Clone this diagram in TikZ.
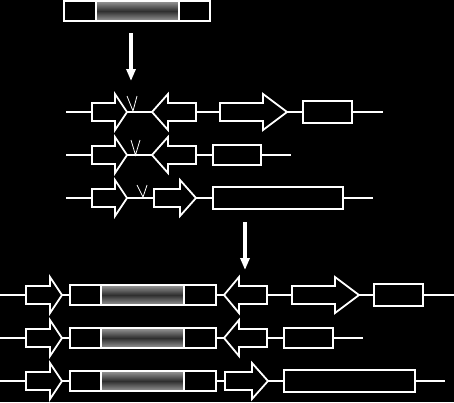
\documentclass[tikz,border=0pt]{standalone}
\usepackage{tikz}
\usetikzlibrary{arrows.meta}
\usetikzlibrary{positioning}
\tikzset{
    dna/.style={
           draw=white, line width=1.8pt,
           },
}
\tikzset{
    gene/.style={
           draw=white, fill=black, line width=1.8pt,
           line join=miter,
           },
}
\tikzset{
    orf/.style={
           rectangle,
           draw=white, fill=black, line width=1.8pt,
           inner sep=0pt, outer sep=0pt,
           anchor=west,
           },
}
\tikzset{
    casend/.style={
           rectangle,
           draw=white, fill=black, line width=1.8pt,
           inner sep=0pt, outer sep=0pt,
           minimum height=20pt,
           },
}
\tikzset{
    casmid/.style={
           rectangle,
           draw=white, line width=1.8pt,
           top color=black!40, bottom color=black!40, middle color=black!82,
           inner sep=0pt, outer sep=0pt,
           minimum height=20pt, minimum width=83pt,
           },
}
\tikzset{
    site/.style={draw=white, line width=0.8pt},
    step arrow/.style={draw=white, line width=4.5pt,
           -{Triangle[width=9pt,length=12pt]}},
    pics/fwd/.style 2 args={code={
           \draw[gene] (0,-9) -- (#1,-9) -- (#1,-18) -- (#1+#2,0)
                 -- (#1,18) -- (#1,9) -- (0,9) -- cycle;
           \coordinate (-tail) at (0,0);
           \coordinate (-tip) at (#1+#2,0);
           }},
    pics/rev/.style 2 args={code={
           \draw[gene] (0,0) -- (#2,-18) -- (#2,-9) -- (#1+#2,-9)
                 -- (#1+#2,9) -- (#2,9) -- (#2,18) -- cycle;
           \coordinate (-tip) at (0,0);
           \coordinate (-tail) at (#1+#2,0);
           }},
}

\begin{document}
\begin{tikzpicture}[x=1pt,y=-1pt]
\fill[black] (0,0) rectangle (454,402);
\useasboundingbox (0,0) rectangle (454,402);
% cassette
\node[casend,minimum width=32pt,anchor=west](cT1) at (64,11){};
\node[casmid,right = 0pt of cT1](cT2){};
\node[casend,minimum width=31pt,right = 0pt of cT2](cT3){};
\coordinate (a1s) at (131,33);
\coordinate (a1e) at (131,81);
\draw[step arrow] (a1s) -- (a1e);
% locus 1
\coordinate (s1) at (66,112);
\pic (g1a) at (92,112) {fwd={23}{12}};
\pic (g1b) at (152,112) {rev={28}{16}};
\pic (g1c) at (220,112) {fwd={43}{24}};
\node[orf,minimum width=49pt,minimum height=22pt](b1) at (303,112){};
\coordinate (e1) at (383,112);
\draw[dna] (s1) -- (g1a-tail);
\draw[dna] (g1a-tip) -- (g1b-tip);
\draw[dna] (g1b-tail) -- (g1c-tail);
\draw[dna] (g1c-tip) -- (b1.west);
\draw[dna] (b1.east) -- (e1);
\draw[site] (g1a-tip) ++(0,-16) -- ++(6,15) -- ++(4,-15);
% locus 2
\coordinate (s2) at (66,155);
\pic (g2a) at (92,155) {fwd={23}{12}};
\pic (g2b) at (152,155) {rev={28}{16}};
\node[orf,minimum width=48pt,minimum height=20pt](b2) at (213,155){};
\coordinate (e2) at (291,155);
\draw[dna] (s2) -- (g2a-tail);
\draw[dna] (g2a-tip) -- (g2b-tip);
\draw[dna] (g2b-tail) -- (b2.west);
\draw[dna] (b2.east) -- (e2);
\draw[site] (g2a-tip) ++(4,-15) -- ++(4.5,15) -- ++(4.5,-15);
% locus 3
\coordinate (s3) at (66,198);
\pic (g3a) at (92,198) {fwd={23}{12}};
\pic (g3b) at (154,198) {fwd={26}{16}};
\node[orf,minimum width=130pt,minimum height=22pt](b3) at (213,198){};
\coordinate (e3) at (373,198);
\draw[dna] (s3) -- (g3a-tail);
\draw[dna] (g3a-tip) -- (g3b-tail);
\draw[dna] (g3b-tip) -- (b3.west);
\draw[dna] (b3.east) -- (e3);
\draw[site] (g3a-tip) ++(10,-13) -- ++(6,12) -- ++(4,-12);
\coordinate (a2s) at (245,222);
\coordinate (a2e) at (245,270);
\draw[step arrow] (a2s) -- (a2e);
% insertions
\foreach \r/\y in {A/295,B/338,C/381}{
  \coordinate (s\r) at (0,\y);
  \pic (p\r) at (26,\y) {fwd={24}{12}};
  \node[casend,minimum width=31pt,anchor=west](c\r1) at (70,\y){};
  \node[casmid,right = 0pt of c\r1](c\r2){};
  \node[casend,minimum width=32pt,right = 0pt of c\r2](c\r3){};
  \draw[dna] (s\r) -- (p\r-tail);
  \draw[dna] (p\r-tip) -- (c\r1.west);
}
\pic (gAb) at (224,295) {rev={28}{15}};
\pic (gAc) at (292,295) {fwd={43}{24}};
\node[orf,minimum width=49pt,minimum height=22pt](bA) at (374,295){};
\coordinate (eA) at (454,295);
\draw[dna] (cA3.east) -- (gAb-tip);
\draw[dna] (gAb-tail) -- (gAc-tail);
\draw[dna] (gAc-tip) -- (bA.west);
\draw[dna] (bA.east) -- (eA);
\pic (gBb) at (224,338) {rev={28}{15}};
\node[orf,minimum width=49pt,minimum height=20pt](bB) at (284,338){};
\coordinate (eB) at (363,338);
\draw[dna] (cB3.east) -- (gBb-tip);
\draw[dna] (gBb-tail) -- (bB.west);
\draw[dna] (bB.east) -- (eB);
\pic (gCb) at (225,381) {fwd={27}{16}};
\node[orf,minimum width=131pt,minimum height=22pt](bC) at (284,381){};
\coordinate (eC) at (445,381);
\draw[dna] (cC3.east) -- (gCb-tail);
\draw[dna] (gCb-tip) -- (bC.west);
\draw[dna] (bC.east) -- (eC);
\end{tikzpicture}
\end{document}
